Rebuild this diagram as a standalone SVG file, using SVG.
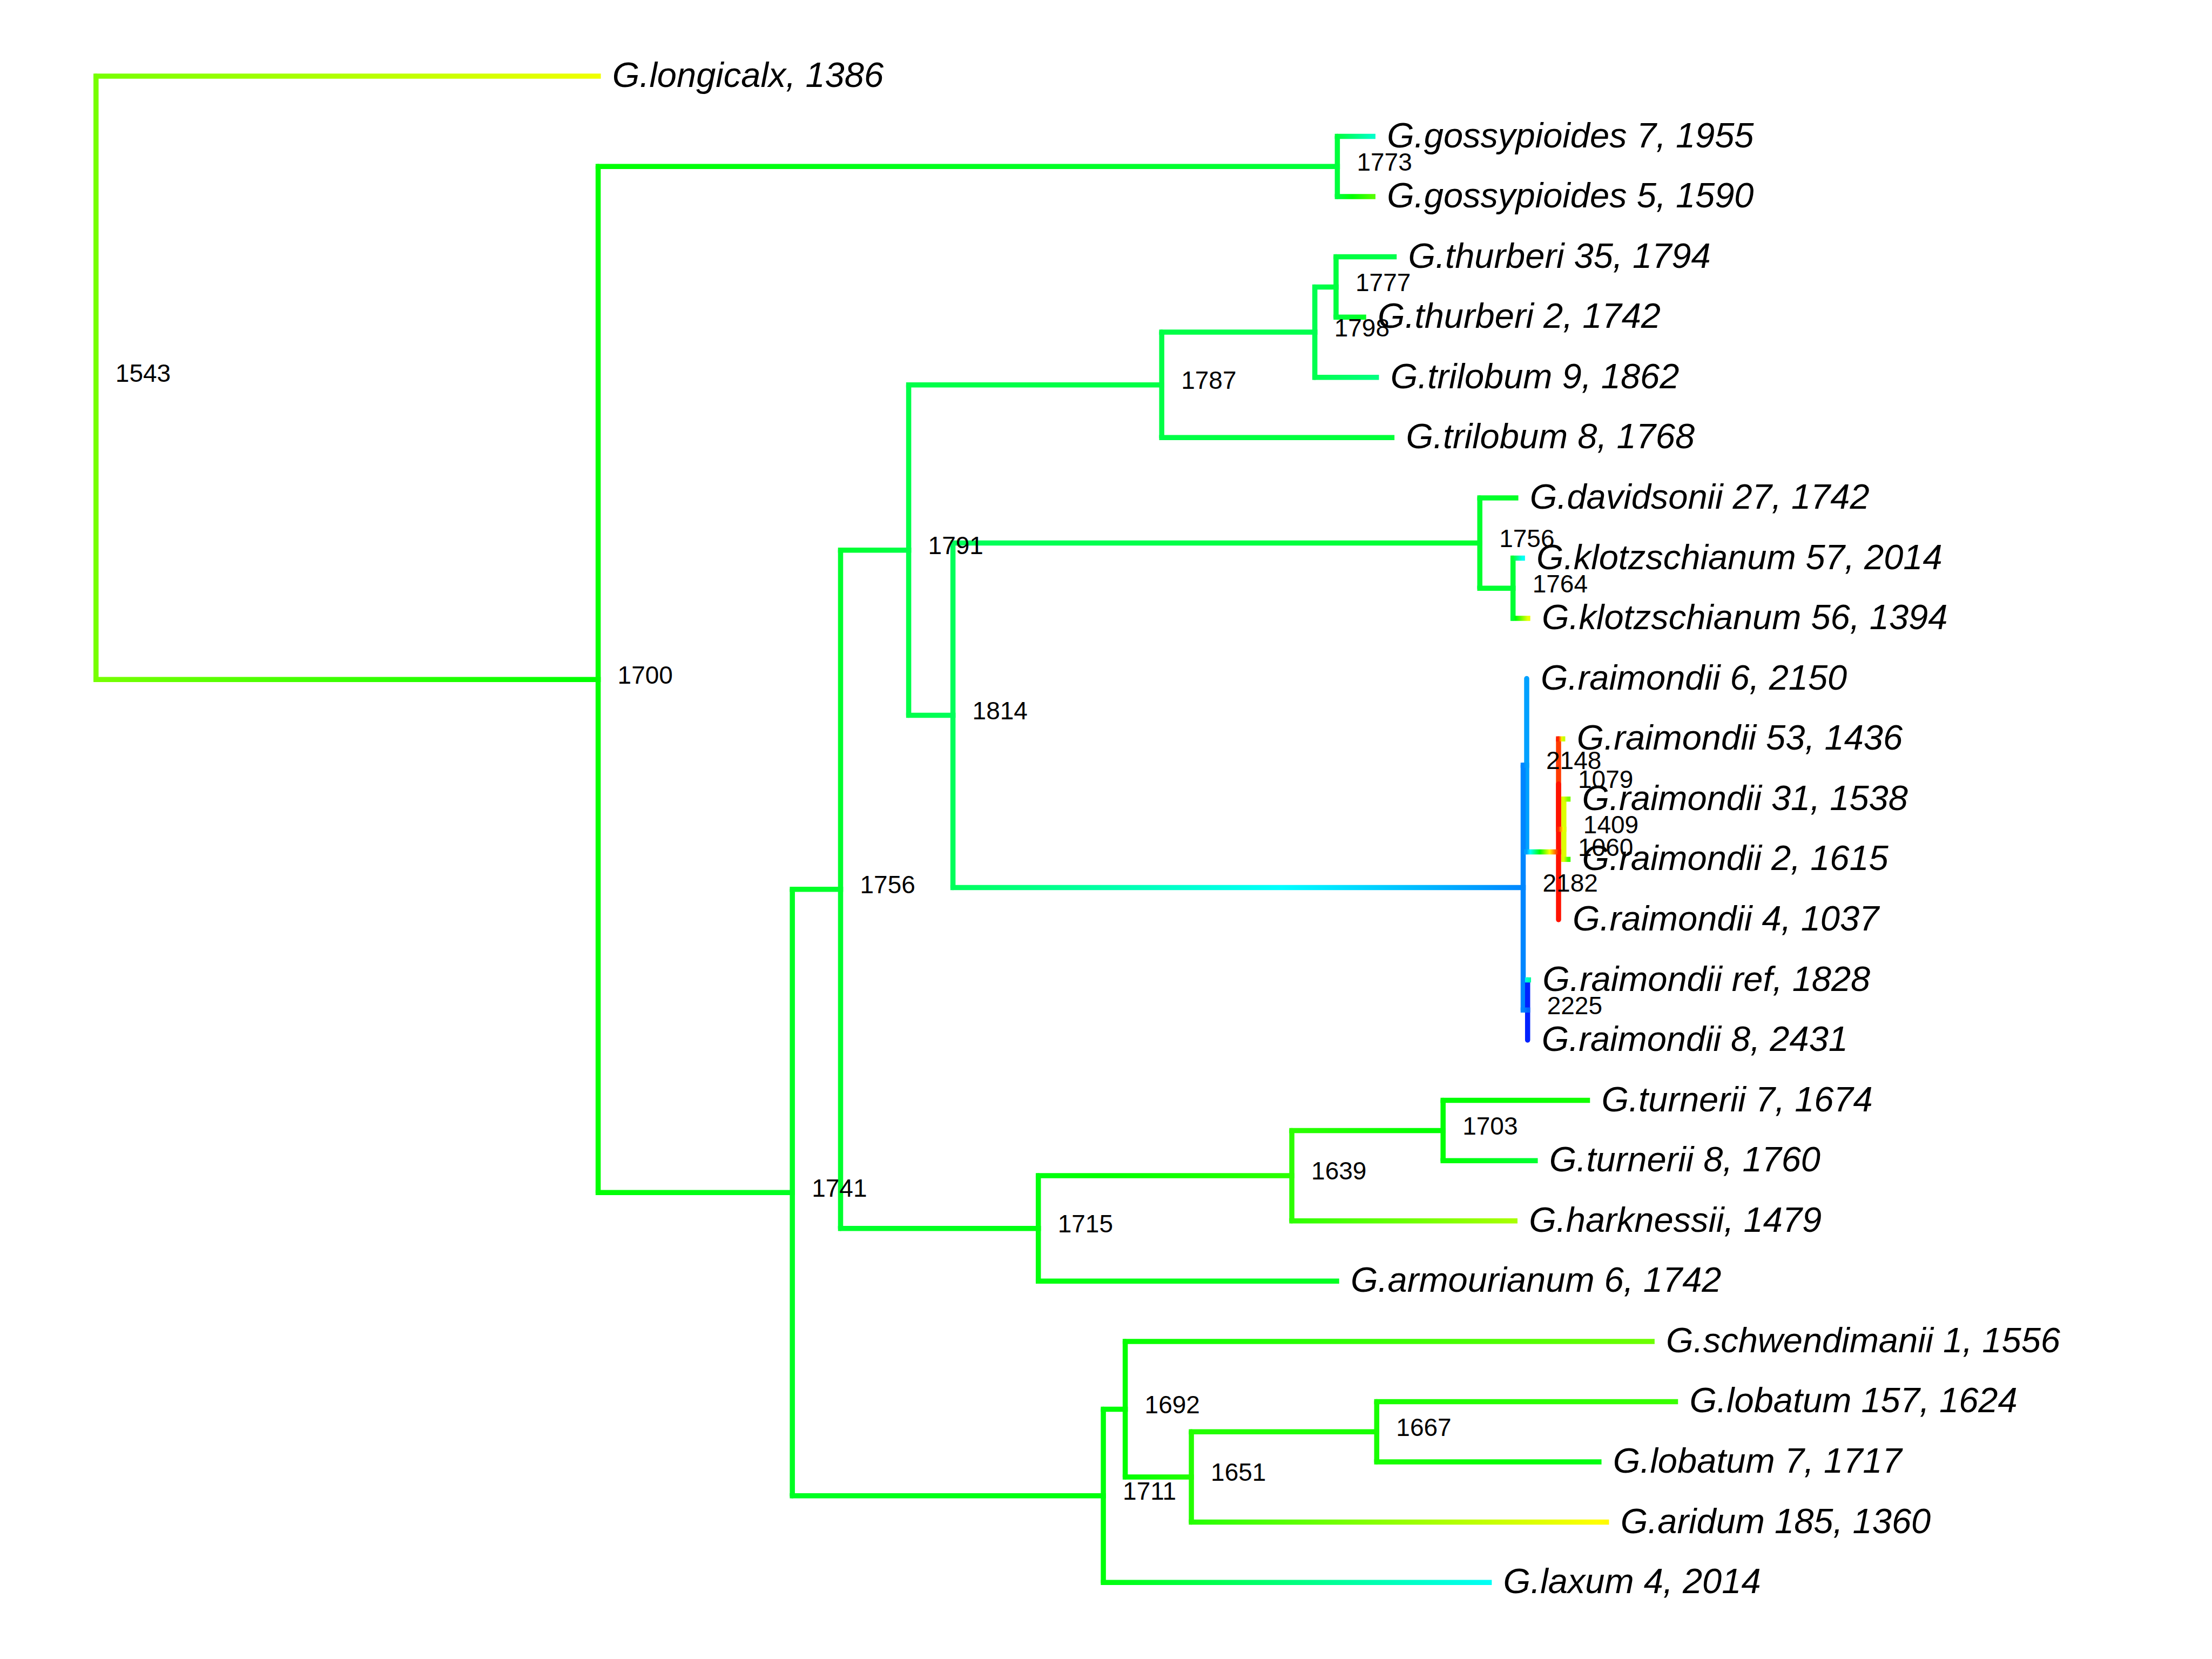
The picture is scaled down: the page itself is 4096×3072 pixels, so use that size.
<svg xmlns="http://www.w3.org/2000/svg" width="4096" height="3072" viewBox="0 0 4096 3072">
<style>
.h{stroke-width:9.5;stroke-linecap:square;fill:none}
.v{stroke-width:9.5;stroke-linecap:round;fill:none}
.leaf{font-family:"Liberation Sans",Arial,sans-serif;font-style:italic;font-size:65px;fill:#000}
.nl{font-family:"Liberation Sans",Arial,sans-serif;font-size:46px;fill:#000}
</style>
<defs>
<linearGradient id="g1" gradientUnits="userSpaceOnUse" x1="177.8" y1="0" x2="1107.8" y2="0"><stop offset="0" stop-color="hsl(92.1,100%,50%)"/><stop offset="1" stop-color="hsl(63.5,100%,50%)"/></linearGradient>
<linearGradient id="g2" gradientUnits="userSpaceOnUse" x1="177.8" y1="0" x2="1107.6" y2="0"><stop offset="0" stop-color="hsl(92.1,100%,50%)"/><stop offset="0.976" stop-color="hsl(120,100%,50%)"/><stop offset="1" stop-color="hsl(120.7,100%,50%)"/></linearGradient>
<linearGradient id="g3" gradientUnits="userSpaceOnUse" x1="1107.6" y1="0" x2="2476.4" y2="0"><stop offset="0" stop-color="hsl(120.7,100%,50%)"/><stop offset="1" stop-color="hsl(134,100%,50%)"/></linearGradient>
<linearGradient id="g4" gradientUnits="userSpaceOnUse" x1="1107.6" y1="0" x2="1467.2" y2="0"><stop offset="0" stop-color="hsl(120.7,100%,50%)"/><stop offset="1" stop-color="hsl(128.1,100%,50%)"/></linearGradient>
<linearGradient id="g5" gradientUnits="userSpaceOnUse" x1="2476.4" y1="0" x2="2542.2" y2="0"><stop offset="0" stop-color="hsl(134,100%,50%)"/><stop offset="1" stop-color="hsl(167.1,100%,50%)"/></linearGradient>
<linearGradient id="g6" gradientUnits="userSpaceOnUse" x1="2476.4" y1="0" x2="2542.2" y2="0"><stop offset="0" stop-color="hsl(134,100%,50%)"/><stop offset="0.419" stop-color="hsl(120,100%,50%)"/><stop offset="1" stop-color="hsl(100.6,100%,50%)"/></linearGradient>
<linearGradient id="g7" gradientUnits="userSpaceOnUse" x1="1467.2" y1="0" x2="1556.5" y2="0"><stop offset="0" stop-color="hsl(128.1,100%,50%)"/><stop offset="1" stop-color="hsl(130.9,100%,50%)"/></linearGradient>
<linearGradient id="g8" gradientUnits="userSpaceOnUse" x1="1467.2" y1="0" x2="2043.1" y2="0"><stop offset="0" stop-color="hsl(128.1,100%,50%)"/><stop offset="1" stop-color="hsl(122.7,100%,50%)"/></linearGradient>
<linearGradient id="g9" gradientUnits="userSpaceOnUse" x1="1556.5" y1="0" x2="1682.6" y2="0"><stop offset="0" stop-color="hsl(130.9,100%,50%)"/><stop offset="1" stop-color="hsl(137.2,100%,50%)"/></linearGradient>
<linearGradient id="g10" gradientUnits="userSpaceOnUse" x1="1556.5" y1="0" x2="1922.7" y2="0"><stop offset="0" stop-color="hsl(130.9,100%,50%)"/><stop offset="1" stop-color="hsl(123.4,100%,50%)"/></linearGradient>
<linearGradient id="g11" gradientUnits="userSpaceOnUse" x1="1682.6" y1="0" x2="2151.2" y2="0"><stop offset="0" stop-color="hsl(137.2,100%,50%)"/><stop offset="1" stop-color="hsl(136.5,100%,50%)"/></linearGradient>
<linearGradient id="g12" gradientUnits="userSpaceOnUse" x1="1682.6" y1="0" x2="1764.6" y2="0"><stop offset="0" stop-color="hsl(137.2,100%,50%)"/><stop offset="1" stop-color="hsl(141.4,100%,50%)"/></linearGradient>
<linearGradient id="g13" gradientUnits="userSpaceOnUse" x1="2151.2" y1="0" x2="2434.7" y2="0"><stop offset="0" stop-color="hsl(136.5,100%,50%)"/><stop offset="1" stop-color="hsl(138.5,100%,50%)"/></linearGradient>
<linearGradient id="g14" gradientUnits="userSpaceOnUse" x1="2151.2" y1="0" x2="2577.4" y2="0"><stop offset="0" stop-color="hsl(136.5,100%,50%)"/><stop offset="1" stop-color="hsl(133,100%,50%)"/></linearGradient>
<linearGradient id="g15" gradientUnits="userSpaceOnUse" x1="2434.7" y1="0" x2="2474" y2="0"><stop offset="0" stop-color="hsl(138.5,100%,50%)"/><stop offset="1" stop-color="hsl(134.7,100%,50%)"/></linearGradient>
<linearGradient id="g16" gradientUnits="userSpaceOnUse" x1="2434.7" y1="0" x2="2548.7" y2="0"><stop offset="0" stop-color="hsl(138.5,100%,50%)"/><stop offset="1" stop-color="hsl(150.2,100%,50%)"/></linearGradient>
<linearGradient id="g17" gradientUnits="userSpaceOnUse" x1="2474" y1="0" x2="2581.5" y2="0"><stop offset="0" stop-color="hsl(134.7,100%,50%)"/><stop offset="1" stop-color="hsl(137.8,100%,50%)"/></linearGradient>
<linearGradient id="g18" gradientUnits="userSpaceOnUse" x1="2474" y1="0" x2="2525" y2="0"><stop offset="0" stop-color="hsl(134.7,100%,50%)"/><stop offset="1" stop-color="hsl(128.3,100%,50%)"/></linearGradient>
<linearGradient id="g19" gradientUnits="userSpaceOnUse" x1="1764.6" y1="0" x2="2740.2" y2="0"><stop offset="0" stop-color="hsl(141.4,100%,50%)"/><stop offset="1" stop-color="hsl(130.9,100%,50%)"/></linearGradient>
<linearGradient id="g20" gradientUnits="userSpaceOnUse" x1="1764.6" y1="0" x2="2820.5" y2="0"><stop offset="0" stop-color="hsl(141.4,100%,50%)"/><stop offset="0.576" stop-color="hsl(180,100%,50%)"/><stop offset="1" stop-color="hsl(208.4,100%,50%)"/></linearGradient>
<linearGradient id="g21" gradientUnits="userSpaceOnUse" x1="2740.2" y1="0" x2="2806.8" y2="0"><stop offset="0" stop-color="hsl(130.9,100%,50%)"/><stop offset="1" stop-color="hsl(128.3,100%,50%)"/></linearGradient>
<linearGradient id="g22" gradientUnits="userSpaceOnUse" x1="2740.2" y1="0" x2="2801.7" y2="0"><stop offset="0" stop-color="hsl(130.9,100%,50%)"/><stop offset="1" stop-color="hsl(132.3,100%,50%)"/></linearGradient>
<linearGradient id="g23" gradientUnits="userSpaceOnUse" x1="2801.7" y1="0" x2="2819.1" y2="0"><stop offset="0" stop-color="hsl(132.3,100%,50%)"/><stop offset="1" stop-color="hsl(177.8,100%,50%)"/></linearGradient>
<linearGradient id="g24" gradientUnits="userSpaceOnUse" x1="2801.7" y1="0" x2="2828.9" y2="0"><stop offset="0" stop-color="hsl(132.3,100%,50%)"/><stop offset="0.183" stop-color="hsl(120,100%,50%)"/><stop offset="1" stop-color="hsl(65,100%,50%)"/></linearGradient>
<linearGradient id="g25" gradientUnits="userSpaceOnUse" x1="2820.5" y1="0" x2="2827" y2="0"><stop offset="0" stop-color="hsl(208.4,100%,50%)"/><stop offset="1" stop-color="hsl(202.2,100%,50%)"/></linearGradient>
<linearGradient id="g26" gradientUnits="userSpaceOnUse" x1="2820.5" y1="0" x2="2828.7" y2="0"><stop offset="0" stop-color="hsl(208.4,100%,50%)"/><stop offset="1" stop-color="hsl(216.2,100%,50%)"/></linearGradient>
<linearGradient id="g28" gradientUnits="userSpaceOnUse" x1="2827" y1="0" x2="2886" y2="0"><stop offset="0" stop-color="hsl(202.2,100%,50%)"/><stop offset="0.112" stop-color="hsl(180,100%,50%)"/><stop offset="0.415" stop-color="hsl(120,100%,50%)"/><stop offset="0.718" stop-color="hsl(60,100%,50%)"/><stop offset="1" stop-color="hsl(4.2,100%,50%)"/></linearGradient>
<linearGradient id="g31" gradientUnits="userSpaceOnUse" x1="2886" y1="0" x2="2893.7" y2="0"><stop offset="0" stop-color="hsl(7.6,100%,50%)"/><stop offset="0.806" stop-color="hsl(60,100%,50%)"/><stop offset="1" stop-color="hsl(72.6,100%,50%)"/></linearGradient>
<linearGradient id="g32" gradientUnits="userSpaceOnUse" x1="2886" y1="0" x2="2895.8" y2="0"><stop offset="0" stop-color="hsl(7.6,100%,50%)"/><stop offset="0.872" stop-color="hsl(60,100%,50%)"/><stop offset="1" stop-color="hsl(67.7,100%,50%)"/></linearGradient>
<linearGradient id="g33" gradientUnits="userSpaceOnUse" x1="2895.8" y1="0" x2="2903.5" y2="0"><stop offset="0" stop-color="hsl(67.7,100%,50%)"/><stop offset="1" stop-color="hsl(91.2,100%,50%)"/></linearGradient>
<linearGradient id="g34" gradientUnits="userSpaceOnUse" x1="2895.8" y1="0" x2="2903.5" y2="0"><stop offset="0" stop-color="hsl(67.7,100%,50%)"/><stop offset="1" stop-color="hsl(105.2,100%,50%)"/></linearGradient>
<linearGradient id="g35" gradientUnits="userSpaceOnUse" x1="2824" y1="0" x2="2836" y2="0"><stop offset="0" stop-color="hsl(175,100%,50%)"/><stop offset="1" stop-color="hsl(155,100%,50%)"/></linearGradient>
<linearGradient id="g37" gradientUnits="userSpaceOnUse" x1="1922.7" y1="0" x2="2392.1" y2="0"><stop offset="0" stop-color="hsl(123.4,100%,50%)"/><stop offset="0.246" stop-color="hsl(120,100%,50%)"/><stop offset="1" stop-color="hsl(109.6,100%,50%)"/></linearGradient>
<linearGradient id="g38" gradientUnits="userSpaceOnUse" x1="1922.7" y1="0" x2="2475" y2="0"><stop offset="0" stop-color="hsl(123.4,100%,50%)"/><stop offset="1" stop-color="hsl(128.3,100%,50%)"/></linearGradient>
<linearGradient id="g39" gradientUnits="userSpaceOnUse" x1="2392.1" y1="0" x2="2672.2" y2="0"><stop offset="0" stop-color="hsl(109.6,100%,50%)"/><stop offset="0.897" stop-color="hsl(120,100%,50%)"/><stop offset="1" stop-color="hsl(121.2,100%,50%)"/></linearGradient>
<linearGradient id="g40" gradientUnits="userSpaceOnUse" x1="2392.1" y1="0" x2="2805.2" y2="0"><stop offset="0" stop-color="hsl(109.6,100%,50%)"/><stop offset="1" stop-color="hsl(80.4,100%,50%)"/></linearGradient>
<linearGradient id="g41" gradientUnits="userSpaceOnUse" x1="2672.2" y1="0" x2="2939.5" y2="0"><stop offset="0" stop-color="hsl(121.2,100%,50%)"/><stop offset="0.226" stop-color="hsl(120,100%,50%)"/><stop offset="1" stop-color="hsl(115.9,100%,50%)"/></linearGradient>
<linearGradient id="g42" gradientUnits="userSpaceOnUse" x1="2672.2" y1="0" x2="2842.8" y2="0"><stop offset="0" stop-color="hsl(121.2,100%,50%)"/><stop offset="1" stop-color="hsl(131.6,100%,50%)"/></linearGradient>
<linearGradient id="g43" gradientUnits="userSpaceOnUse" x1="2043.1" y1="0" x2="2083.6" y2="0"><stop offset="0" stop-color="hsl(122.7,100%,50%)"/><stop offset="0.77" stop-color="hsl(120,100%,50%)"/><stop offset="1" stop-color="hsl(119.2,100%,50%)"/></linearGradient>
<linearGradient id="g44" gradientUnits="userSpaceOnUse" x1="2043.1" y1="0" x2="2757.6" y2="0"><stop offset="0" stop-color="hsl(122.7,100%,50%)"/><stop offset="1" stop-color="hsl(177.8,100%,50%)"/></linearGradient>
<linearGradient id="g45" gradientUnits="userSpaceOnUse" x1="2083.6" y1="0" x2="3059.1" y2="0"><stop offset="0" stop-color="hsl(119.2,100%,50%)"/><stop offset="1" stop-color="hsl(94.5,100%,50%)"/></linearGradient>
<linearGradient id="g46" gradientUnits="userSpaceOnUse" x1="2083.6" y1="0" x2="2206.1" y2="0"><stop offset="0" stop-color="hsl(119.2,100%,50%)"/><stop offset="1" stop-color="hsl(111.7,100%,50%)"/></linearGradient>
<linearGradient id="g47" gradientUnits="userSpaceOnUse" x1="2206.1" y1="0" x2="2549.3" y2="0"><stop offset="0" stop-color="hsl(111.7,100%,50%)"/><stop offset="1" stop-color="hsl(114.7,100%,50%)"/></linearGradient>
<linearGradient id="g48" gradientUnits="userSpaceOnUse" x1="2206.1" y1="0" x2="2974.7" y2="0"><stop offset="0" stop-color="hsl(111.7,100%,50%)"/><stop offset="0.977" stop-color="hsl(60,100%,50%)"/><stop offset="1" stop-color="hsl(58.8,100%,50%)"/></linearGradient>
<linearGradient id="g49" gradientUnits="userSpaceOnUse" x1="2549.3" y1="0" x2="3102.5" y2="0"><stop offset="0" stop-color="hsl(114.7,100%,50%)"/><stop offset="1" stop-color="hsl(106.8,100%,50%)"/></linearGradient>
<linearGradient id="g50" gradientUnits="userSpaceOnUse" x1="2549.3" y1="0" x2="2960.8" y2="0"><stop offset="0" stop-color="hsl(114.7,100%,50%)"/><stop offset="0.582" stop-color="hsl(120,100%,50%)"/><stop offset="1" stop-color="hsl(123.8,100%,50%)"/></linearGradient>
</defs>
<rect x="0" y="0" width="4096" height="3072" fill="#ffffff"/>
<g id="connectors">
<line class="v" x1="177.8" y1="140.9" x2="177.8" y2="1258.25" stroke="hsl(92.1,100%,50%)"/>
<line class="v" x1="1107.6" y1="308.25" x2="1107.6" y2="2208.25" stroke="hsl(120.7,100%,50%)"/>
<line class="v" x1="2476.4" y1="252.5" x2="2476.4" y2="364" stroke="hsl(134,100%,50%)"/>
<line class="v" x1="1467.2" y1="1646.7" x2="1467.2" y2="2769.8" stroke="hsl(128.1,100%,50%)"/>
<line class="v" x1="1556.5" y1="1018.65" x2="1556.5" y2="2274.7" stroke="hsl(130.9,100%,50%)"/>
<line class="v" x1="1682.6" y1="712.7" x2="1682.6" y2="1324.6" stroke="hsl(137.2,100%,50%)"/>
<line class="v" x1="2151.2" y1="615.1" x2="2151.2" y2="810.3" stroke="hsl(136.5,100%,50%)"/>
<line class="v" x1="2434.7" y1="531.4" x2="2434.7" y2="698.8" stroke="hsl(138.5,100%,50%)"/>
<line class="v" x1="2474" y1="475.6" x2="2474" y2="587.2" stroke="hsl(134.7,100%,50%)"/>
<line class="v" x1="1764.6" y1="1005.6" x2="1764.6" y2="1643.6" stroke="hsl(141.4,100%,50%)"/>
<line class="v" x1="2740.2" y1="921.9" x2="2740.2" y2="1089.25" stroke="hsl(130.9,100%,50%)"/>
<line class="v" x1="2801.7" y1="1033.5" x2="2801.7" y2="1145" stroke="hsl(132.3,100%,50%)"/>
<line class="v" x1="2827" y1="1256.6" x2="2827" y2="1577.4" stroke="hsl(202.2,100%,50%)"/>
<line class="v" x1="2820.5" y1="1417" x2="2820.5" y2="1870.25" stroke="hsl(208.4,100%,50%)"/>
<line class="v" x1="2886" y1="1368.2" x2="2886" y2="1535.5" stroke="hsl(14,100%,50%)"/>
<line class="v" x1="2886" y1="1451.85" x2="2886" y2="1702.9" stroke="hsl(4.2,100%,50%)"/>
<line class="v" x1="2895.8" y1="1479.7" x2="2895.8" y2="1591.3" stroke="hsl(67.7,100%,50%)"/>
<line class="v" x1="2828.7" y1="1814.5" x2="2828.7" y2="1926" stroke="hsl(232,100%,50%)"/>
<line class="v" x1="1922.7" y1="2177.05" x2="1922.7" y2="2372.3" stroke="hsl(123.4,100%,50%)"/>
<line class="v" x1="2392.1" y1="2093.4" x2="2392.1" y2="2260.7" stroke="hsl(109.6,100%,50%)"/>
<line class="v" x1="2672.2" y1="2037.6" x2="2672.2" y2="2149.2" stroke="hsl(121.2,100%,50%)"/>
<line class="v" x1="2043.1" y1="2609.4" x2="2043.1" y2="2930.2" stroke="hsl(122.7,100%,50%)"/>
<line class="v" x1="2083.6" y1="2483.9" x2="2083.6" y2="2734.9" stroke="hsl(119.2,100%,50%)"/>
<line class="v" x1="2206.1" y1="2651.2" x2="2206.1" y2="2818.6" stroke="hsl(111.7,100%,50%)"/>
<line class="v" x1="2549.3" y1="2595.4" x2="2549.3" y2="2707" stroke="hsl(114.7,100%,50%)"/>
<line class="h" x1="177.8" y1="140.9" x2="1107.8" y2="140.9" stroke="url(#g1)"/>
<line class="h" x1="177.8" y1="1258.25" x2="1107.6" y2="1258.25" stroke="url(#g2)"/>
<line class="h" x1="1107.6" y1="308.25" x2="2476.4" y2="308.25" stroke="url(#g3)"/>
<line class="h" x1="1107.6" y1="2208.25" x2="1467.2" y2="2208.25" stroke="url(#g4)"/>
<line class="h" x1="2476.4" y1="252.5" x2="2542.2" y2="252.5" stroke="url(#g5)"/>
<line class="h" x1="2476.4" y1="364" x2="2542.2" y2="364" stroke="url(#g6)"/>
<line class="h" x1="1467.2" y1="1646.7" x2="1556.5" y2="1646.7" stroke="url(#g7)"/>
<line class="h" x1="1467.2" y1="2769.8" x2="2043.1" y2="2769.8" stroke="url(#g8)"/>
<line class="h" x1="1556.5" y1="1018.65" x2="1682.6" y2="1018.65" stroke="url(#g9)"/>
<line class="h" x1="1556.5" y1="2274.7" x2="1922.7" y2="2274.7" stroke="url(#g10)"/>
<line class="h" x1="1682.6" y1="712.7" x2="2151.2" y2="712.7" stroke="url(#g11)"/>
<line class="h" x1="1682.6" y1="1324.6" x2="1764.6" y2="1324.6" stroke="url(#g12)"/>
<line class="h" x1="2151.2" y1="615.1" x2="2434.7" y2="615.1" stroke="url(#g13)"/>
<line class="h" x1="2151.2" y1="810.3" x2="2577.4" y2="810.3" stroke="url(#g14)"/>
<line class="h" x1="2434.7" y1="531.4" x2="2474" y2="531.4" stroke="url(#g15)"/>
<line class="h" x1="2434.7" y1="698.8" x2="2548.7" y2="698.8" stroke="url(#g16)"/>
<line class="h" x1="2474" y1="475.6" x2="2581.5" y2="475.6" stroke="url(#g17)"/>
<line class="h" x1="2474" y1="587.2" x2="2525" y2="587.2" stroke="url(#g18)"/>
<line class="h" x1="1764.6" y1="1005.6" x2="2740.2" y2="1005.6" stroke="url(#g19)"/>
<line class="h" x1="1764.6" y1="1643.6" x2="2820.5" y2="1643.6" stroke="url(#g20)"/>
<line class="h" x1="2740.2" y1="921.9" x2="2806.8" y2="921.9" stroke="url(#g21)"/>
<line class="h" x1="2740.2" y1="1089.25" x2="2801.7" y2="1089.25" stroke="url(#g22)"/>
<line class="h" x1="2801.7" y1="1033.5" x2="2819.1" y2="1033.5" stroke="url(#g23)"/>
<line class="h" x1="2801.7" y1="1145" x2="2828.9" y2="1145" stroke="url(#g24)"/>
<line class="h" x1="2820.5" y1="1417" x2="2827" y2="1417" stroke="url(#g25)"/>
<line class="h" x1="2820.5" y1="1870.25" x2="2828.7" y2="1870.25" stroke="url(#g26)"/>
<line class="h" x1="2827" y1="1577.4" x2="2886" y2="1577.4" stroke="url(#g28)"/>
<line class="h" x1="2886" y1="1368.2" x2="2893.7" y2="1368.2" stroke="url(#g31)"/>
<line class="h" x1="2886" y1="1535.5" x2="2895.8" y2="1535.5" stroke="url(#g32)"/>
<line class="h" x1="2895.8" y1="1479.7" x2="2903.5" y2="1479.7" stroke="url(#g33)"/>
<line class="h" x1="2895.8" y1="1591.3" x2="2903.5" y2="1591.3" stroke="url(#g34)"/>
<line class="h" x1="2828.7" y1="1814.5" x2="2830.3" y2="1814.5" stroke="url(#g35)"/>
<line class="h" x1="1922.7" y1="2177.05" x2="2392.1" y2="2177.05" stroke="url(#g37)"/>
<line class="h" x1="1922.7" y1="2372.3" x2="2475" y2="2372.3" stroke="url(#g38)"/>
<line class="h" x1="2392.1" y1="2093.4" x2="2672.2" y2="2093.4" stroke="url(#g39)"/>
<line class="h" x1="2392.1" y1="2260.7" x2="2805.2" y2="2260.7" stroke="url(#g40)"/>
<line class="h" x1="2672.2" y1="2037.6" x2="2939.5" y2="2037.6" stroke="url(#g41)"/>
<line class="h" x1="2672.2" y1="2149.2" x2="2842.8" y2="2149.2" stroke="url(#g42)"/>
<line class="h" x1="2043.1" y1="2609.4" x2="2083.6" y2="2609.4" stroke="url(#g43)"/>
<line class="h" x1="2043.1" y1="2930.2" x2="2757.6" y2="2930.2" stroke="url(#g44)"/>
<line class="h" x1="2083.6" y1="2483.9" x2="3059.1" y2="2483.9" stroke="url(#g45)"/>
<line class="h" x1="2083.6" y1="2734.9" x2="2206.1" y2="2734.9" stroke="url(#g46)"/>
<line class="h" x1="2206.1" y1="2651.2" x2="2549.3" y2="2651.2" stroke="url(#g47)"/>
<line class="h" x1="2206.1" y1="2818.6" x2="2974.7" y2="2818.6" stroke="url(#g48)"/>
<line class="h" x1="2549.3" y1="2595.4" x2="3102.5" y2="2595.4" stroke="url(#g49)"/>
<line class="h" x1="2549.3" y1="2707" x2="2960.8" y2="2707" stroke="url(#g50)"/>
</g>
<g id="node-1543"><text class="nl" x="213.8" y="707">1543</text></g>
<g id="node-1700"><text class="nl" x="1143.6" y="1265.6">1700</text></g>
<g id="node-1773"><text class="nl" x="2512.4" y="315.6">1773</text></g>
<g id="node-1741"><text class="nl" x="1503.2" y="2215.6">1741</text></g>
<g id="node-1756a"><text class="nl" x="1592.5" y="1654.1">1756</text></g>
<g id="node-1791"><text class="nl" x="1718.6" y="1026">1791</text></g>
<g id="node-1787"><text class="nl" x="2187.2" y="720.1">1787</text></g>
<g id="node-1798"><text class="nl" x="2470.7" y="622.5">1798</text></g>
<g id="node-1777"><text class="nl" x="2510" y="538.8">1777</text></g>
<g id="node-1814"><text class="nl" x="1800.6" y="1332">1814</text></g>
<g id="node-1756b"><text class="nl" x="2776.2" y="1013">1756</text></g>
<g id="node-1764"><text class="nl" x="2837.7" y="1096.6">1764</text></g>
<g id="node-2182"><text class="nl" x="2856.5" y="1651">2182</text></g>
<g id="node-2148"><text class="nl" x="2863" y="1424.4">2148</text></g>
<g id="node-1079"><text class="nl" x="2922" y="1459.2">1079</text></g>
<g id="node-1409"><text class="nl" x="2931.8" y="1542.9">1409</text></g>
<g id="node-1060"><text class="nl" x="2922" y="1584.8">1060</text></g>
<g id="node-2225"><text class="nl" x="2864.7" y="1877.6">2225</text></g>
<g id="node-1715"><text class="nl" x="1958.7" y="2282.1">1715</text></g>
<g id="node-1639"><text class="nl" x="2428.1" y="2184.4">1639</text></g>
<g id="node-1703"><text class="nl" x="2708.2" y="2100.8">1703</text></g>
<g id="node-1711"><text class="nl" x="2079.1" y="2777.2">1711</text></g>
<g id="node-1692"><text class="nl" x="2119.6" y="2616.8">1692</text></g>
<g id="node-1651"><text class="nl" x="2242.1" y="2742.3">1651</text></g>
<g id="node-1667"><text class="nl" x="2585.3" y="2658.6">1667</text></g>
<g id="tip-longicalx"><text class="leaf" x="1133.8" y="160.9">G.longicalx, 1386</text></g>
<g id="tip-gossypioides7"><text class="leaf" x="2568.2" y="272.5">G.gossypioides 7, 1955</text></g>
<g id="tip-gossypioides5"><text class="leaf" x="2568.2" y="384">G.gossypioides 5, 1590</text></g>
<g id="tip-thurberi35"><text class="leaf" x="2607.5" y="495.6">G.thurberi 35, 1794</text></g>
<g id="tip-thurberi2"><text class="leaf" x="2551" y="607.2">G.thurberi 2, 1742</text></g>
<g id="tip-trilobum9"><text class="leaf" x="2574.7" y="718.8">G.trilobum 9, 1862</text></g>
<g id="tip-trilobum8"><text class="leaf" x="2603.4" y="830.3">G.trilobum 8, 1768</text></g>
<g id="tip-davidsonii27"><text class="leaf" x="2832.8" y="941.9">G.davidsonii 27, 1742</text></g>
<g id="tip-klotzschianum57"><text class="leaf" x="2845.1" y="1053.5">G.klotzschianum 57, 2014</text></g>
<g id="tip-klotzschianum56"><text class="leaf" x="2854.9" y="1165">G.klotzschianum 56, 1394</text></g>
<g id="tip-raimondii6"><text class="leaf" x="2853" y="1276.6">G.raimondii 6, 2150</text></g>
<g id="tip-raimondii53"><text class="leaf" x="2919.7" y="1388.2">G.raimondii 53, 1436</text></g>
<g id="tip-raimondii31"><text class="leaf" x="2929.5" y="1499.7">G.raimondii 31, 1538</text></g>
<g id="tip-raimondii2"><text class="leaf" x="2929.5" y="1611.3">G.raimondii 2, 1615</text></g>
<g id="tip-raimondii4"><text class="leaf" x="2912" y="1722.9">G.raimondii 4, 1037</text></g>
<g id="tip-raimondiiref"><text class="leaf" x="2856.3" y="1834.5">G.raimondii ref, 1828</text></g>
<g id="tip-raimondii8"><text class="leaf" x="2854.7" y="1946">G.raimondii 8, 2431</text></g>
<g id="tip-turnerii7"><text class="leaf" x="2965.5" y="2057.6">G.turnerii 7, 1674</text></g>
<g id="tip-turnerii8"><text class="leaf" x="2868.8" y="2169.2">G.turnerii 8, 1760</text></g>
<g id="tip-harknessii"><text class="leaf" x="2831.2" y="2280.7">G.harknessii, 1479</text></g>
<g id="tip-armourianum6"><text class="leaf" x="2501" y="2392.3">G.armourianum 6, 1742</text></g>
<g id="tip-schwendimanii1"><text class="leaf" x="3085.1" y="2503.9">G.schwendimanii 1, 1556</text></g>
<g id="tip-lobatum157"><text class="leaf" x="3128.5" y="2615.4">G.lobatum 157, 1624</text></g>
<g id="tip-lobatum7"><text class="leaf" x="2986.8" y="2727">G.lobatum 7, 1717</text></g>
<g id="tip-aridum185"><text class="leaf" x="3000.7" y="2838.6">G.aridum 185, 1360</text></g>
<g id="tip-laxum4"><text class="leaf" x="2783.6" y="2950.2">G.laxum 4, 2014</text></g>
</svg>
